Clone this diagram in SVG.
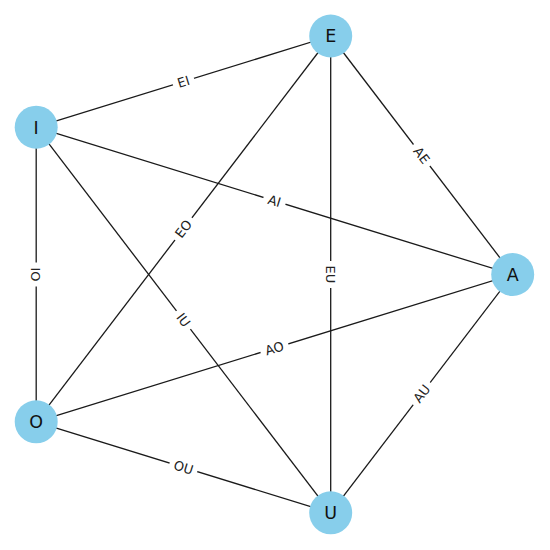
<svg xmlns="http://www.w3.org/2000/svg" width="550" height="550" viewBox="0 0 550 550">
<style>
.edge{stroke:#1a1a1a;stroke-width:1.3;fill:none}
.node circle{fill:#87CEEB}
.node text{font-family:"DejaVu Sans",sans-serif;font-size:17.5px;fill:#111;text-anchor:middle}
.lbl rect{fill:#fff}
.lbl text{font-family:"DejaVu Sans",sans-serif;font-size:13px;fill:#222;text-anchor:middle}
</style>
<rect width="550" height="550" fill="#fff"/>
<g id="connectors">
<line class="edge" x1="330.7" y1="36" x2="36.2" y2="127.2"/>
<line class="edge" x1="512.7" y1="274.5" x2="330.7" y2="36"/>
<line class="edge" x1="512.7" y1="274.5" x2="36.2" y2="127.2"/>
<line class="edge" x1="330.7" y1="36" x2="36.2" y2="421.8"/>
<line class="edge" x1="330.7" y1="36" x2="330.7" y2="512.8"/>
<line class="edge" x1="36.2" y1="127.2" x2="36.2" y2="421.8"/>
<line class="edge" x1="36.2" y1="127.2" x2="330.7" y2="512.8"/>
<line class="edge" x1="512.7" y1="274.5" x2="36.2" y2="421.8"/>
<line class="edge" x1="512.7" y1="274.5" x2="330.7" y2="512.8"/>
<line class="edge" x1="36.2" y1="421.8" x2="330.7" y2="512.8"/>
<g class="lbl" transform="translate(183.45,81.6) rotate(-17.2)"><rect x="-11" y="-9" width="22" height="18" rx="4"/><text y="4.7">EI</text></g>
<g class="lbl" transform="translate(421.7,155.25) rotate(52.65)"><rect x="-13.5" y="-9" width="27" height="18" rx="4"/><text y="4.7">AE</text></g>
<g class="lbl" transform="translate(274.45,200.85) rotate(17.18)"><rect x="-11.5" y="-9" width="23" height="18" rx="4"/><text y="4.7">AI</text></g>
<g class="lbl" transform="translate(183.45,228.9) rotate(-52.65)"><rect x="-14" y="-9" width="28" height="18" rx="4"/><text y="4.7">EO</text></g>
<g class="lbl" transform="translate(330.7,274.4) rotate(90)"><rect x="-13.5" y="-9" width="27" height="18" rx="4"/><text y="4.7">EU</text></g>
<g class="lbl" transform="translate(36.2,274.5) rotate(90)"><rect x="-12" y="-9" width="24" height="18" rx="4"/><text y="4.7">IO</text></g>
<g class="lbl" transform="translate(183.45,320) rotate(52.63)"><rect x="-11.5" y="-9" width="23" height="18" rx="4"/><text y="4.7">IU</text></g>
<g class="lbl" transform="translate(274.45,348.15) rotate(-17.18)"><rect x="-14.5" y="-9" width="29" height="18" rx="4"/><text y="4.7">AO</text></g>
<g class="lbl" transform="translate(421.7,393.65) rotate(-52.63)"><rect x="-14" y="-9" width="28" height="18" rx="4"/><text y="4.7">AU</text></g>
<g class="lbl" transform="translate(183.45,467.3) rotate(17.17)"><rect x="-14.5" y="-9" width="29" height="18" rx="4"/><text y="4.7">OU</text></g>
</g>
<g id="node-E" class="node"><circle cx="330.7" cy="36" r="21.5"/><text x="330.7" y="42.4">E</text></g>
<g id="node-I" class="node"><circle cx="36.2" cy="127.2" r="21.5"/><text x="36.2" y="133.6">I</text></g>
<g id="node-A" class="node"><circle cx="512.7" cy="274.5" r="21.5"/><text x="512.7" y="280.9">A</text></g>
<g id="node-O" class="node"><circle cx="36.2" cy="421.8" r="21.5"/><text x="36.2" y="428.2">O</text></g>
<g id="node-U" class="node"><circle cx="330.7" cy="512.8" r="21.5"/><text x="330.7" y="519.2">U</text></g>
</svg>
